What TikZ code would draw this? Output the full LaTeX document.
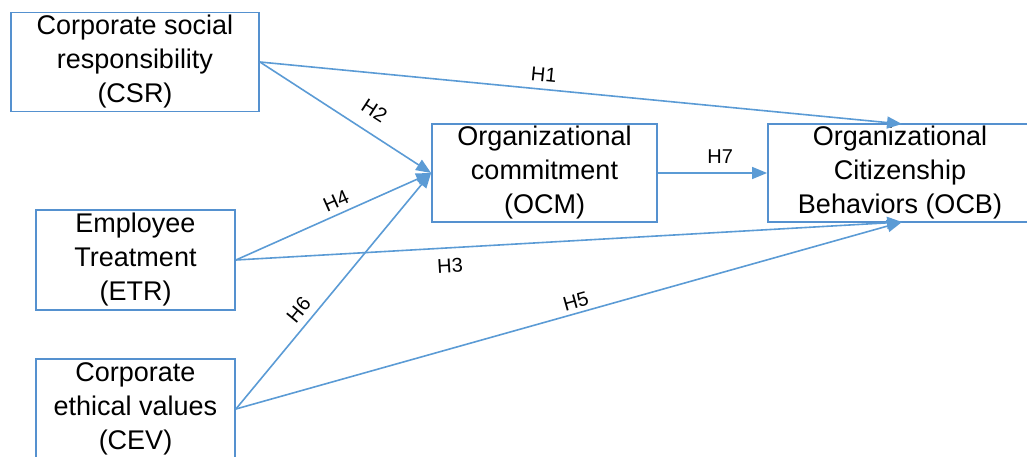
\documentclass[tikz,border=0pt]{standalone}
\usepackage{fontspec}
\setmainfont{Liberation Sans}
\usetikzlibrary{arrows.meta}
\definecolor{linkblue}{HTML}{5B9BD5}
\definecolor{boxblue}{HTML}{5591CF}
\begin{document}
\begin{tikzpicture}[x=1pt,y=-1pt,
  construct/.style={draw=boxblue, line width=1.8pt, align=center, inner sep=0pt,
    font=\fontsize{27}{34}\selectfont},
  link/.style={draw=linkblue, line width=1.6pt,
    -{Triangle[length=15pt,width=12pt]}},
  hyp/.style={font=\fontsize{20}{22}\selectfont, inner sep=0pt, sloped}]
\useasboundingbox (0,0) rectangle (1027,457);

% constructs
\node[construct, minimum width=248pt, minimum height=99pt] (csr) at (135,62)
  {Corporate social\\responsibility\\(CSR)};
\node[construct, minimum width=199pt, minimum height=100pt] (etr) at (135.5,260)
  {Employee\\Treatment\\(ETR)};
\node[construct, minimum width=199pt, minimum height=100pt] (cev) at (135.5,409)
  {Corporate\\ethical values\\(CEV)};
\node[construct, minimum width=225pt, minimum height=98pt] (ocm) at (544.5,173)
  {Organizational\\commitment\\(OCM)};
\node[construct, minimum width=264pt, minimum height=98pt] (ocb) at (900,173)
  {Organizational\\Citizenship\\Behaviors (OCB)};

% arrow targets on the outcome box
\coordinate (ocbtop) at (902,124);
\coordinate (ocbbot) at (902,222);

% hypothesised paths
\draw[link] (csr.east) -- node[hyp, pos=0.44, above=7pt] {H1} (ocbtop);
\draw[link] (csr.east) -- node[hyp, pos=0.60, above=14pt] {H2} (ocm.west);
\draw[link] (etr.east) -- node[hyp, pos=0.54, above=5.5pt] {H4} (ocm.west);
\draw[link] (cev.east) -- node[hyp, pos=0.38, above=7pt] {H6} (ocm.west);
\draw[link] (etr.east) -- node[hyp, pos=0.32, below=10pt] {H3} (ocbbot);
\draw[link] (cev.east) -- node[hyp, pos=0.515, above=4pt] {H5} (ocbbot);
\draw[link] (ocm.east) -- node[hyp, pos=0.57, above=9pt] {H7} (ocb.west);
\end{tikzpicture}
\end{document}
